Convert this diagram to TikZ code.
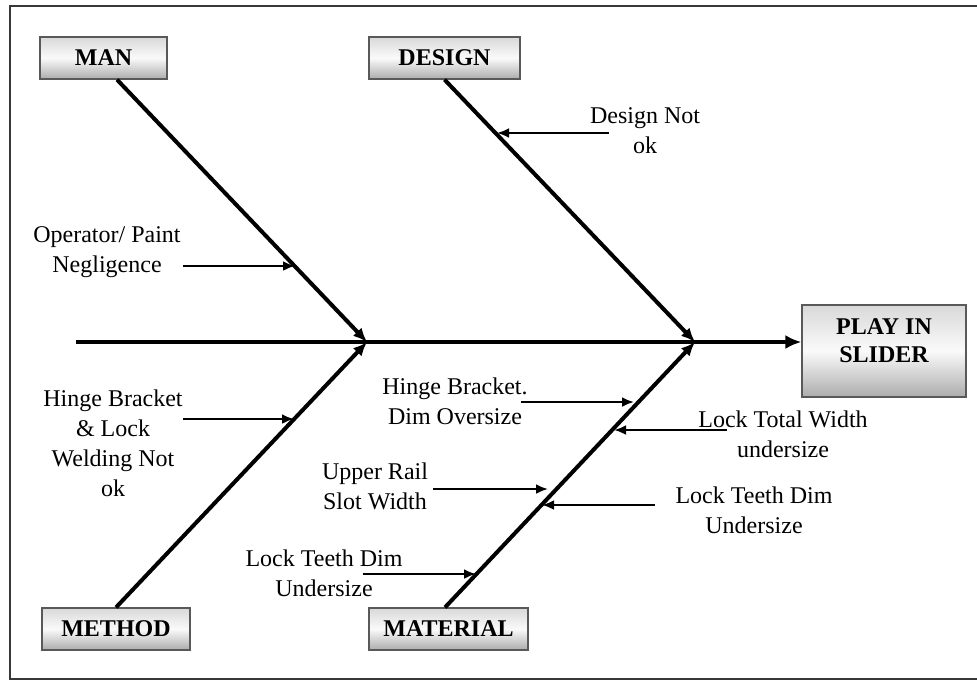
\documentclass[tikz,border=0pt]{standalone}
\usepackage{fontspec}
\setmainfont{Liberation Serif}
\usetikzlibrary{arrows.meta, positioning, calc}

\tikzset{
  catbox/.style={draw=gray!70!black, line width=0.6pt, top color=gray!30, bottom color=gray!65,
    middle color=gray!4, minimum height=21pt, inner sep=0pt, font=\fontsize{12}{14}\selectfont\bfseries},
  bone/.style={line width=2pt, -{Latex[length=7pt,width=6pt]}},
  sub/.style={line width=1.2pt, -{Latex[length=6pt,width=5pt]}},
  cause/.style={align=center, font=\fontsize{12}{15}\selectfont, inner sep=0pt}
}

\begin{document}
\begin{tikzpicture}[x=0.5pt, y=-0.5pt]
  \useasboundingbox (0,0) rectangle (977,687);
  \draw[line width=1.2pt, black!78] (977,6) -- (10,6) -- (10,679) -- (977,679);

  \node[catbox, minimum width=63.5pt] (man) at (103.5,58) {MAN};
  \node[catbox, minimum width=75.5pt] (design) at (444.5,58) {DESIGN};
  \node[catbox, minimum width=74pt] (method) at (116,629) {METHOD};
  \node[catbox, minimum width=79.5pt] (material) at (448.5,629) {MATERIAL};
  \node[catbox, minimum width=82pt, minimum height=46pt] (effect) at (884,351) {};
  \node[cause, font=\fontsize{12}{14}\selectfont\bfseries] (effect text) at (884,341) {PLAY IN\\SLIDER};

  \coordinate (tail) at (76,342);
  \coordinate (j1) at (367,342);
  \coordinate (j2) at (695,342);
  \draw[line width=2.4pt, -{Latex[length=8pt,width=7pt]}] (tail) -- (tail -| effect.west);
  \draw[bone] ($(man.south)+(13.5,0)$) -- (j1);
  \draw[bone] (method.north) -- (j1);
  \draw[bone] (design.south) -- (j2);
  \draw[bone] ($(material.north)+(-3.5,0)$) -- (j2);

  \node[cause] (c1) at (645,131) {Design Not\\ok};
  \node[cause] (c2) at (107,252) {Operator/ Paint\\Negligence};
  \node[cause] (c3) at (113,443) {Hinge Bracket\\\& Lock\\Welding Not\\ok};
  \node[cause] (c4) at (455,401) {Hinge Bracket.\\Dim Oversize};
  \node[cause] (c5) at (783,434) {Lock Total Width\\undersize};
  \node[cause] (c6) at (375,486) {Upper Rail\\Slot Width};
  \node[cause] (c7) at (754,510) {Lock Teeth Dim\\Undersize};
  \node[cause] (c8) at (324,573) {Lock Teeth Dim\\Undersize};

  \foreach \nm/\sx/\tx/\yy in {a1/609/497/133, a2/183/295/266, a3/183/294/419, a4/521/634/402,
                               a5/727/614/430, a6/433/548/489, a7/655/542/505, a8/363/476/574} {
    \coordinate (\nm-s) at (\sx,\yy);
    \coordinate (\nm-t) at (\tx,\yy);
    \draw[sub] (\nm-s) -- (\nm-t);
  }
\end{tikzpicture}
\end{document}
